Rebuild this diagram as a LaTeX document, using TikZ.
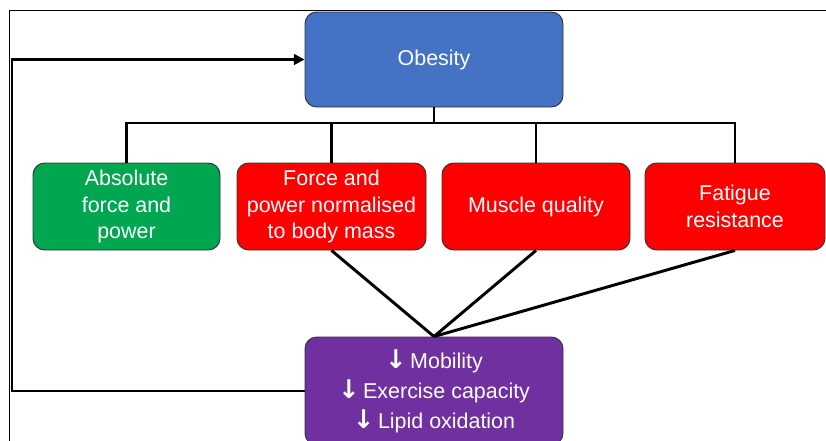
\documentclass[tikz,border=0pt]{standalone}
\usepackage{fontspec}
\setmainfont{Liberation Sans}
\newfontfamily\arrowfont{DejaVu Sans}
\usetikzlibrary{arrows.meta}

\definecolor{obesityblue}{HTML}{4472C4}
\definecolor{absgreen}{HTML}{00A650}
\definecolor{lossred}{HTML}{FF0000}
\definecolor{outpurple}{HTML}{7030A0}

\newcommand{\downarr}{{\arrowfont\bfseries\fontsize{22}{22}\selectfont ↓}}

\begin{document}
\begin{tikzpicture}[x=0.03cm,y=-0.03cm,
  box/.style={draw=black!80, line width=0.8pt, rounded corners=10pt, text=white,
    align=center, inner sep=0pt, font=\fontsize{18.3}{22.5}\selectfont},
  link/.style={line width=2.5pt}]

% Box size unit (one pixel)
\def\px{0.03cm}

\useasboundingbox (0,0) rectangle (826,441);

% Frame round the figure
\draw[line width=0.7pt] (826,10) -- (9,10) -- (9,441);

% Top and bottom boxes
\node[box, fill=obesityblue, minimum width=258*\px, minimum height=95*\px] (obesity) at (434,59.5) {Obesity};
\node[box, fill=outpurple, minimum width=258*\px, minimum height=108*\px,
  font=\fontsize{18.3}{25.5}\selectfont] (outcomes) at (434,391)
  {\downarr\,Mobility\\ \downarr\,Exercise capacity\\ \downarr\,Lipid oxidation};

% Middle row
\node[box, fill=absgreen, minimum width=187*\px, minimum height=87*\px] (absolute) at (126.5,206.5) {Absolute\\ force and\\ power};
\node[box, fill=lossred, minimum width=189*\px, minimum height=87*\px] (normalised) at (331.5,206.5) {Force and\\ power normalised\\ to body mass};
\node[box, fill=lossred, minimum width=188*\px, minimum height=87*\px] (quality) at (536,206.5) {Muscle quality};
\node[box, fill=lossred, minimum width=180*\px, minimum height=87*\px] (fatigue) at (735,206.5) {Fatigue\\ resistance};

% Tree from obesity to the middle row
\coordinate (split) at (434,123);
\draw[link] (obesity.south) -- (split);
\draw[link] (absolute.north) |- (split) -| (fatigue.north);
\draw[link] (normalised.north) -- (normalised.north |- split);
\draw[link] (quality.north) -- (quality.north |- split);

% Red boxes into the outcomes
\draw[link] (normalised.south) -- (outcomes.north);
\draw[link] (quality.south) -- (outcomes.north);
\draw[link] (fatigue.south) -- (outcomes.north);

% Feedback loop
\coordinate (loop) at (12,200);
\draw[link, -{Triangle[length=9pt,width=9pt]}] (outcomes.west) -| (loop) |- (obesity.west);
\end{tikzpicture}
\end{document}
